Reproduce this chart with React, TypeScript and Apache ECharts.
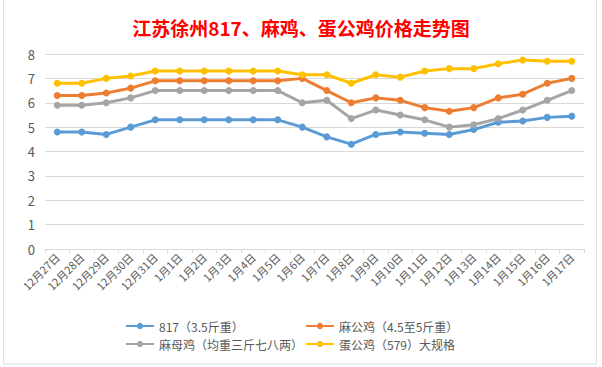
import React, { useEffect, useRef } from "react";
import * as echarts from "echarts";

const categories = [
  "12月27日", "12月28日", "12月29日", "12月30日", "12月31日",
  "1月1日", "1月2日", "1月3日", "1月4日", "1月5日", "1月6日",
  "1月7日", "1月8日", "1月9日", "1月10日", "1月11日", "1月12日",
  "1月13日", "1月14日", "1月15日", "1月16日", "1月17日",
];

const seriesNames = ["817（3.5斤重）", "麻公鸡（4.5至5斤重）", "麻母鸡（均重三斤七八两）", "蛋公鸡（579）大规格"];

const s817 = [4.8, 4.8, 4.7, 5.0, 5.3, 5.3, 5.3, 5.3, 5.3, 5.3, 5.0, 4.6, 4.3, 4.7, 4.8, 4.75, 4.7, 4.9, 5.2, 5.25, 5.4, 5.45];
const sMaGong = [6.3, 6.3, 6.4, 6.6, 6.9, 6.9, 6.9, 6.9, 6.9, 6.9, 7.0, 6.5, 6.0, 6.2, 6.1, 5.8, 5.65, 5.8, 6.2, 6.35, 6.8, 7.0];
const sMaMu = [5.9, 5.9, 6.0, 6.2, 6.5, 6.5, 6.5, 6.5, 6.5, 6.5, 6.0, 6.1, 5.35, 5.7, 5.5, 5.3, 5.0, 5.1, 5.35, 5.7, 6.1, 6.5];
const sDanGong = [6.8, 6.8, 7.0, 7.1, 7.3, 7.3, 7.3, 7.3, 7.3, 7.3, 7.15, 7.15, 6.8, 7.15, 7.05, 7.3, 7.4, 7.4, 7.6, 7.75, 7.7, 7.7];

const colors = ["#5B9BD5", "#ED7D31", "#A5A5A5", "#FFC000"];
const seriesData = [s817, sMaGong, sMaMu, sDanGong];

const yTicks = [0, 1, 2, 3, 4, 5, 6, 7, 8];

export default function App() {
  const ref = useRef<HTMLDivElement>(null);
  useEffect(() => {
    document.body.style.margin = "0";
    if (!ref.current) return;
    const chart = echarts.init(ref.current, undefined, { renderer: "svg" });
    const font = "'Microsoft YaHei', 'Noto Sans CJK SC', sans-serif";
    const legendPos = [
      { left: 125, top: 320 },
      { left: 305, top: 320 },
      { left: 125, top: 338 },
      { left: 305, top: 338 },
    ];
    chart.setOption({
      animation: false,
      backgroundColor: "#ffffff",
      title: {
        text: "江苏徐州817、麻鸡、蛋公鸡价格走势图",
        left: "center",
        top: 13,
        textStyle: {
          color: "#FF0000",
          fontSize: 19,
          fontWeight: "bold",
          fontFamily: "'Noto Sans CJK SC', sans-serif",
        },
      },
      graphic: [
        {
          type: "rect",
          shape: { x: 3.5, y: -2, width: 593, height: 366 },
          style: { fill: "none", stroke: "#e0e0e0", lineWidth: 1 },
          silent: true,
        },
      ],
      legend: legendPos.map((p, i) => ({
        data: [seriesNames[i]],
        left: p.left,
        top: p.top,
        padding: 0,
        itemWidth: 28,
        itemHeight: 8,
        itemGap: 4,
        textStyle: { color: "#595959", fontSize: 12, fontFamily: font },
      })),
      grid: { left: 45, right: 18, top: 54, bottom: 118 },
      xAxis: {
        type: "category",
        data: categories,
        boundaryGap: true,
        axisLine: { lineStyle: { color: "#d9d9d9" } },
        axisTick: { show: true, lineStyle: { color: "#d9d9d9" }, length: 4 },
        axisLabel: {
          rotate: 45,
          color: "#595959",
          fontSize: 11,
          interval: 0,
          margin: 6,
          fontFamily: font,
        },
      },
      yAxis: {
        type: "value",
        min: yTicks[0],
        max: yTicks[yTicks.length - 1],
        interval: 1,
        axisLine: { show: false },
        axisTick: { show: false },
        splitLine: { lineStyle: { color: "#d9d9d9" } },
        axisLabel: { color: "#595959", fontSize: 13, margin: 10, fontFamily: font },
      },
      series: seriesData.map((d, i) => ({
        name: seriesNames[i],
        type: "line",
        data: d,
        color: colors[i],
        symbol: "circle",
        symbolSize: 7,
        lineStyle: { width: 3, color: colors[i] },
        itemStyle: { color: colors[i] },
      })),
    });
    return () => chart.dispose();
  }, []);
  return <div ref={ref} style={{ width: 602, height: 367 }} />;
}
